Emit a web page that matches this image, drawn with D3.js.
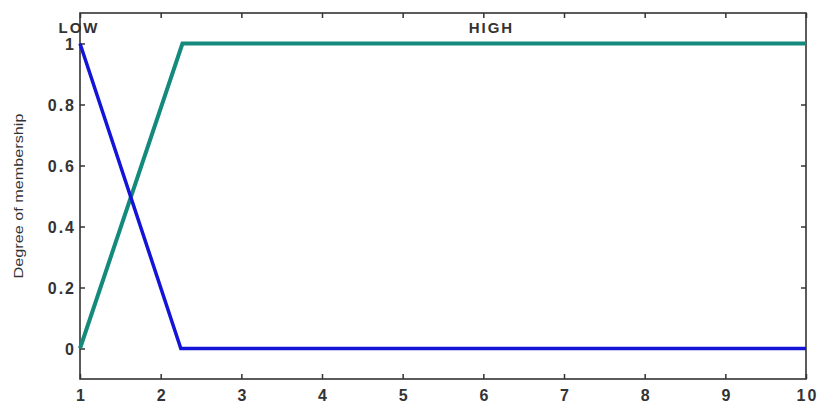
<!DOCTYPE html>
<html>
<head>
<meta charset="utf-8">
<script src="https://cdn.jsdelivr.net/npm/d3@7"></script>
<style>
  body { margin: 0; background: #fff; }
  text { font-family: "Liberation Sans", Arial, sans-serif; }
</style>
</head>
<body>
<div id="chart"></div>
<script>
// membership functions (x, degree)
var lowX = [1, 2.25, 10];
var lowY = [1, 0, 0];
var highX = [1, 2.27, 10];
var highY = [0, 1, 1];
var xTicks = [1, 2, 3, 4, 5, 6, 7, 8, 9, 10];
var yTicks = [0, 0.2, 0.4, 0.6, 0.8, 1];
var mfNames = ["LOW", "HIGH"];
var mfLabelX = [1, 6.1];

var width = 819, height = 405;
var margin = {top: 13, right: 13, bottom: 26, left: 80};
var axisColor = "#333";
var textColor = "#333";

var svg = d3.select("#chart").append("svg")
    .attr("width", width)
    .attr("height", height);

var x = d3.scaleLinear().domain([1, 10]).range([margin.left, width - margin.right]);
var y = d3.scaleLinear().domain([-0.1, 1.1]).range([height - margin.bottom, margin.top]);

var line = d3.line()
    .x(function(d) { return x(d[0]); })
    .y(function(d) { return y(d[1]); });

// axes with inward ticks
var gBottom = svg.append("g")
    .attr("transform", "translate(0," + y.range()[0] + ")")
    .call(d3.axisBottom(x).tickValues(xTicks).tickSize(-5).tickPadding(11).tickFormat(d3.format("d")));
var gTop = svg.append("g")
    .attr("transform", "translate(0," + y.range()[1] + ")")
    .call(d3.axisTop(x).tickValues(xTicks).tickSize(-5).tickFormat(""));
var gLeft = svg.append("g")
    .attr("transform", "translate(" + x.range()[0] + ",0)")
    .call(d3.axisLeft(y).tickValues(yTicks).tickSize(-5).tickPadding(6).tickFormat(d3.format("")));
var gRight = svg.append("g")
    .attr("transform", "translate(" + x.range()[1] + ",0)")
    .call(d3.axisRight(y).tickValues(yTicks).tickSize(-5).tickFormat(""));

[gBottom, gTop, gLeft, gRight].forEach(function(g) {
    g.select(".domain").remove();
    g.selectAll(".tick line").attr("stroke", axisColor).attr("stroke-width", 1.5);
    g.selectAll(".tick text")
        .attr("fill", textColor)
        .style("font-size", "16px")
        .style("font-weight", "bold")
        .style("letter-spacing", "2px");
});
// letter-spacing adds a trailing gap, pull labels back
gBottom.selectAll(".tick text").attr("dx", "1px");
gLeft.selectAll(".tick text").attr("dx", "2px").attr("dy", "0.36em");

// frame
svg.append("rect")
    .attr("x", x.range()[0])
    .attr("y", y.range()[1])
    .attr("width", x.range()[1] - x.range()[0])
    .attr("height", y.range()[0] - y.range()[1])
    .attr("fill", "none")
    .attr("stroke", axisColor)
    .attr("stroke-width", 1.6);

// curves
svg.append("path")
    .datum(d3.zip(highX, highY))
    .attr("d", line)
    .attr("fill", "none")
    .attr("stroke", "#148a7c")
    .attr("stroke-width", 4);

svg.append("path")
    .datum(d3.zip(lowX, lowY))
    .attr("d", line)
    .attr("fill", "none")
    .attr("stroke", "#1414d8")
    .attr("stroke-width", 3.5);

// mf names
svg.selectAll(".mf").data(mfNames).enter().append("text")
    .attr("class", "mf")
    .attr("x", function(d, i) { return x(mfLabelX[i]) - (i == 0 ? 1 : 0); })
    .attr("y", 33)
    .attr("text-anchor", "middle")
    .attr("fill", textColor)
    .style("font-size", "15px")
    .style("font-weight", "bold")
    .style("letter-spacing", "2px")
    .text(function(d) { return d; });

// y axis title
svg.append("text")
    .attr("transform", "translate(23," + y(0.5) + ") rotate(-90)")
    .attr("text-anchor", "middle")
    .attr("fill", textColor)
    .attr("textLength", 165)
    .attr("lengthAdjust", "spacingAndGlyphs")
    .style("font-size", "13px")
    .text("Degree of membership");
</script>
</body>
</html>
